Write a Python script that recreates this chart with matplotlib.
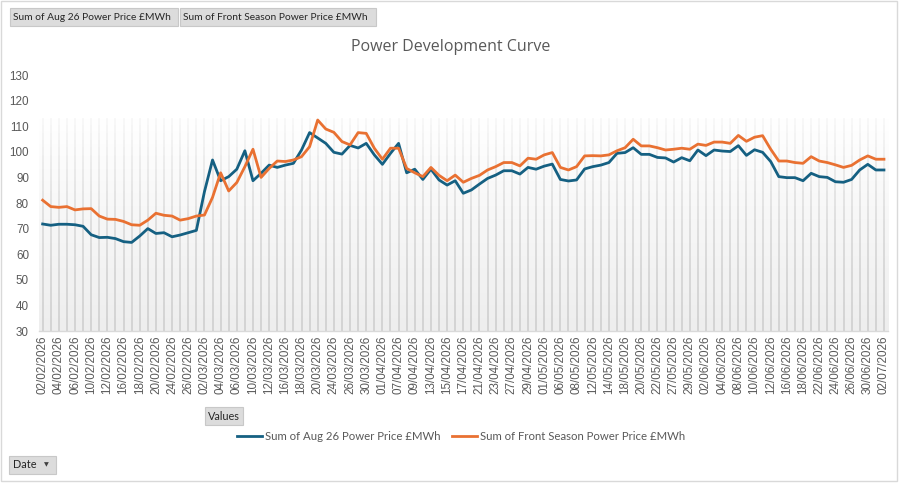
import numpy as np
import pandas as pd
import matplotlib
matplotlib.use('Agg')
import matplotlib.pyplot as plt
from matplotlib.colors import LinearSegmentedColormap, to_rgb
from matplotlib.collections import LineCollection
from matplotlib.patches import Rectangle
from matplotlib.lines import Line2D

# UK trading days, Feb - Jul 2026
holidays = ['2026-04-03', '2026-04-06', '2026-05-04', '2026-05-25']
dates = pd.bdate_range('2026-02-02', '2026-07-02', freq='C', holidays=holidays)
date_labels = [d.strftime('%d/%m/%Y') for d in dates]

aug26_price = [
    71.8, 71.3, 71.7, 71.7, 71.5, 70.9, 67.6, 66.5, 66.6, 66.1,
    64.9, 64.6, 67.1, 70.0, 68.1, 68.4, 66.8, 67.5, 68.4, 69.3,
    84.4, 96.8, 88.7, 90.3, 93.2, 100.4, 88.7, 91.6, 94.8, 93.9,
    94.8, 95.5, 100.7, 107.5, 105.4, 103.3, 99.8, 99.1, 102.5, 101.5,
    103.3, 98.8, 95.1, 99.4, 103.3, 91.8, 93.2, 89.2, 93.2, 89.0,
    87.0, 88.7, 83.8, 85.1, 87.4, 89.6, 90.9, 92.6, 92.6, 91.3,
    93.9, 93.2, 94.4, 95.2, 89.2, 88.6, 89.0, 93.3, 94.2, 94.8,
    95.8, 99.4, 99.7, 101.6, 99.0, 99.0, 97.8, 97.6, 96.0, 97.7,
    96.5, 100.7, 98.5, 100.7, 100.3, 100.1, 102.4, 98.6, 100.8, 99.8,
    96.2, 90.3, 89.9, 89.9, 88.7, 91.6, 90.3, 90.0, 88.3, 88.1,
    89.2, 92.9, 95.1, 92.9, 92.9,
]

front_season_price = [
    81.1, 78.6, 78.3, 78.6, 77.3, 77.7, 77.8, 74.9, 73.7, 73.6,
    72.8, 71.5, 71.3, 73.3, 76.0, 75.2, 74.9, 73.3, 73.9, 74.9,
    75.3, 82.2, 91.8, 84.7, 88.0, 94.2, 101.0, 90.0, 93.5, 96.4,
    96.2, 96.8, 98.1, 102.0, 112.4, 108.9, 107.6, 104.0, 102.7, 107.5,
    107.2, 101.4, 97.1, 101.4, 101.4, 93.5, 91.8, 90.3, 93.9, 90.8,
    88.7, 90.9, 88.1, 89.6, 90.8, 92.9, 94.2, 95.8, 95.8, 94.5,
    97.5, 97.1, 98.8, 99.7, 93.9, 92.9, 94.2, 98.4, 98.5, 98.4,
    98.8, 100.4, 101.6, 104.9, 102.3, 102.3, 101.6, 100.7, 101.0, 101.4,
    101.0, 103.0, 102.5, 103.8, 103.8, 103.3, 106.4, 104.1, 105.7, 106.3,
    101.0, 96.4, 96.4, 95.8, 95.5, 98.1, 96.4, 95.8, 94.9, 93.9,
    94.7, 96.8, 98.4, 97.1, 97.1,
]

series_names = ['Sum of Aug 26 Power Price £MWh', 'Sum of Front Season Power Price £MWh']
colors = ['#156082', '#E97132']

W, H = 903, 483
fig = plt.figure(figsize=(W / 100, H / 100), dpi=100)
fig.patch.set_facecolor('white')


def fx(x):
    return x / W


def fy(y):
    return 1 - y / H


def button(x0, y0, x1, y1, text, tx=None, size=7.5):
    fig.patches.append(Rectangle((fx(x0), fy(y1)), fx(x1 - x0), (y1 - y0) / H,
                                 transform=fig.transFigure, facecolor='#dcdcdc',
                                 edgecolor='#c8c8c8', lw=0.8))
    fig.text(fx(tx if tx is not None else x0 + 3), fy((y0 + y1) / 2), text,
             ha='left', va='center', fontsize=size, color='#262626', family='Lato')


# outer chart border
fig.patches.append(Rectangle((fx(1), fy(481)), fx(896), 480 / H, transform=fig.transFigure,
                             facecolor='none', edgecolor='#d9d9d9', lw=1))

ax = fig.add_axes([fx(38.6), fy(331), fx(888 - 38.6), (331 - 75) / H])
x = np.arange(len(dates))

# plot area gradient + fading vertical lines
grad_top = 113.2
cmap = LinearSegmentedColormap.from_list('bg', ['#ffffff', '#eeeeee'])
ax.imshow(np.linspace(0, 1, 200)[:, None], extent=[-0.5, len(x) - 0.5, 30, grad_top],
          aspect='auto', cmap=cmap, origin='upper', zorder=0)
edges = np.linspace(30, grad_top, 30)
segs, cols = [], []
base = to_rgb('#d4d4d4')
for xi in x:
    for k in range(len(edges) - 1):
        segs.append([(xi, edges[k]), (xi, edges[k + 1])])
        a = 1.0 - 0.85 * (k / (len(edges) - 2)) ** 1.5
        cols.append((*base, a))
ax.add_collection(LineCollection(segs, colors=cols, linewidths=1.4, zorder=1))

ax.plot(x, aug26_price, color=colors[0], lw=2.0, zorder=3, solid_joinstyle='round')
ax.plot(x, front_season_price, color=colors[1], lw=2.0, zorder=3, solid_joinstyle='round')

ax.set_xlim(-0.5, len(x) - 0.5)
ax.set_ylim(30, 130)
ax.set_yticks(range(30, 131, 10))
ax.set_xticks(x[::2])
ax.set_xticklabels(date_labels[::2], rotation=90, fontsize=8.4, color='#595959',
                   family='Liberation Sans')
for lab in ax.get_yticklabels():
    lab.set_fontsize(8.4)
    lab.set_color('#595959')
    lab.set_family('Liberation Sans')
ax.tick_params(axis='x', length=0, pad=3.5)
ax.tick_params(axis='y', length=0, pad=7)
for side in ['top', 'right', 'left']:
    ax.spines[side].set_visible(False)
ax.spines['bottom'].set_color('#d9d9d9')
ax.spines['bottom'].set_linewidth(1)
ax.set_facecolor('none')

fig.text(fx(451), fy(47), 'Power Development Curve', ha='center', va='center',
         fontsize=11.5, color='#595959', family='Open Sans')

# pivot field buttons
button(10, 8, 178, 26, series_names[0], size=7.4)
button(180, 8, 376, 26, series_names[1], size=7.4)
button(205, 407, 243, 425, 'Values', tx=208, size=7.8)
button(9, 456, 56, 474, 'Date', tx=13, size=7.8)
fig.text(fx(46), fy(465), '▼', ha='center', va='center', fontsize=4.5, color='#404040',
         family='DejaVu Sans')

# legend
for (lx0, tx), name, c in zip([(237, 265), (452, 480)], series_names, colors):
    fig.lines.append(Line2D([fx(lx0), fx(lx0 + 25)], [fy(436), fy(436)],
                            transform=fig.transFigure, color=c, lw=2.0))
    fig.text(fx(tx), fy(436), name, ha='left', va='center', fontsize=8.2,
             color='#595959', family='Lato')

fig.savefig('out.png', dpi=100)
